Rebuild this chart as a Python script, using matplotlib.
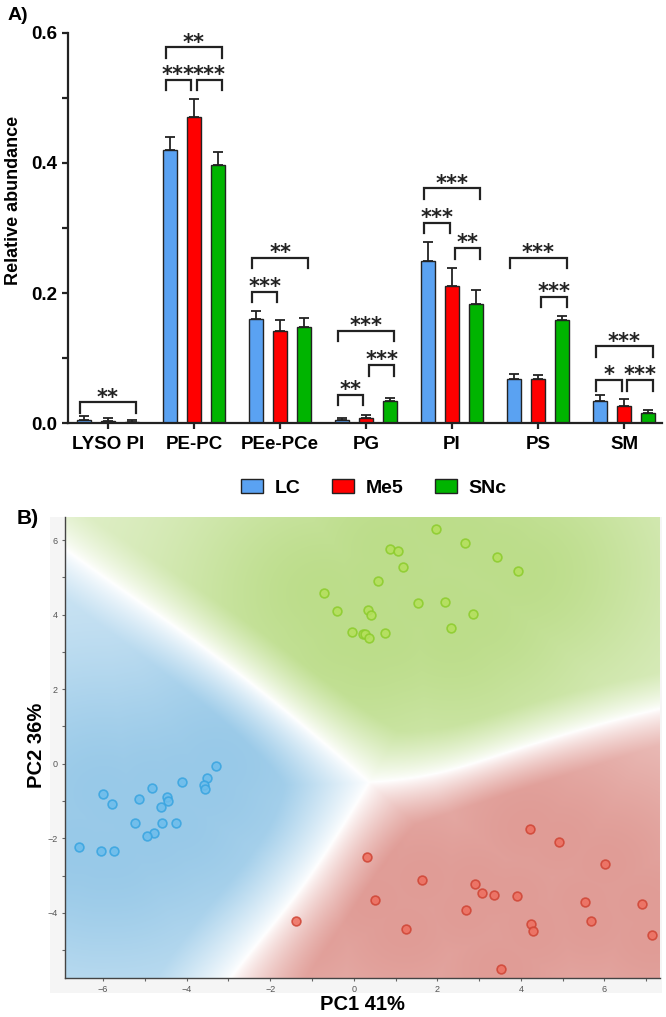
import numpy as np
import matplotlib
matplotlib.use('Agg')
import matplotlib.pyplot as plt
from matplotlib.patches import Patch, Rectangle
from matplotlib.colors import to_rgb

plt.rcParams['font.family'] = ['Liberation Sans', 'DejaVu Sans']

# ---- panel A data ----
categories = ['LYSO PI', 'PE-PC', 'PEe-PCe', 'PG', 'PI', 'PS', 'SM']
groups = ['LC', 'Me5', 'SNc']
lc_mean = [0.005, 0.420, 0.160, 0.005, 0.249, 0.068, 0.034]
lc_err = [0.006, 0.020, 0.012, 0.003, 0.030, 0.008, 0.009]
me5_mean = [0.003, 0.471, 0.142, 0.008, 0.211, 0.068, 0.026]
me5_err = [0.005, 0.027, 0.016, 0.004, 0.027, 0.006, 0.011]
snc_mean = [0.002, 0.397, 0.148, 0.034, 0.183, 0.158, 0.015]
snc_err = [0.002, 0.020, 0.013, 0.004, 0.022, 0.007, 0.005]

# (category, group a, group b, bracket height, label)
comparisons = [
    (0, 0, 2, 0.032, '**'),
    (1, 0, 2, 0.578, '**'),
    (1, 0, 1, 0.528, '***'),
    (1, 1, 2, 0.528, '***'),
    (2, 0, 2, 0.254, '**'),
    (2, 0, 1, 0.202, '***'),
    (3, 0, 2, 0.142, '***'),
    (3, 1, 2, 0.089, '***'),
    (3, 0, 1, 0.043, '**'),
    (4, 0, 2, 0.361, '***'),
    (4, 0, 1, 0.308, '***'),
    (4, 1, 2, 0.269, '**'),
    (5, 0, 2, 0.254, '***'),
    (5, 1, 2, 0.194, '***'),
    (6, 0, 2, 0.118, '***'),
    (6, 0, 1, 0.066, '*'),
    (6, 1, 2, 0.066, '***'),
]

# ---- panel B data (PCA scores) ----
lc_pc1 = [-3.30, -3.50, -3.59, -3.57, -4.10, -4.82, -4.47, -4.44, -4.61, -5.13,
          -5.99, -5.78, -5.23, -4.60, -4.26, -4.78, -4.94, -6.57, -6.05, -5.74]
lc_pc2 = [-0.07, -0.38, -0.56, -0.69, -0.48, -0.66, -0.89, -0.99, -1.16, -0.95,
          -0.80, -1.09, -1.58, -1.60, -1.60, -1.87, -1.95, -2.23, -2.35, -2.34]
me5_pc1 = [4.21, 4.92, 0.31, 6.01, 1.64, 2.90, 3.06, 3.35, 3.90, 0.52,
           5.53, 6.90, 2.69, 5.68, 4.25, 4.30, 1.24, 7.15, 3.53, -1.39]
me5_pc2 = [-1.74, -2.09, -2.49, -2.69, -3.12, -3.24, -3.46, -3.53, -3.55, -3.65,
           -3.70, -3.76, -3.93, -4.21, -4.29, -4.48, -4.43, -4.60, -5.50, -4.23]
snc_pc1 = [1.98, 2.66, 0.86, 1.07, 3.43, 1.19, 3.94, 0.58, -0.70, -0.41,
           0.34, 0.41, 1.54, 2.18, 2.85, -0.05, 0.21, 0.26, 0.37, 0.76, 2.33]
snc_pc2 = [6.30, 5.93, 5.76, 5.70, 5.55, 5.27, 5.17, 4.90, 4.57, 4.10,
           4.13, 3.99, 4.32, 4.35, 4.01, 3.54, 3.48, 3.48, 3.38, 3.52, 3.64]

bar_colors = ['#5aa2f2', '#ff0000', '#00b400']
region_colors = ['#98c9e8', '#e09c96', '#bcdd8a']
point_face = ['#6cbdec', '#ef6e5e', '#b4e05c']
point_edge = ['#38a4e0', '#cf4434', '#8ccc2c']

fig = plt.figure(figsize=(6.66, 10.17), dpi=100)
W, H = 666, 1017


def fig_box(x0, y0, x1, y1):
    return [x0 / W, 1 - y1 / H, (x1 - x0) / W, (y1 - y0) / H]


# ================= panel A =================
ax = fig.add_axes(fig_box(68, 33, 662, 423))
x = np.arange(len(categories))
offsets = [-0.28, 0.0, 0.28]
width = 0.165
means = [lc_mean, me5_mean, snc_mean]
errs = [lc_err, me5_err, snc_err]
for i in range(3):
    ax.bar(x + offsets[i], means[i], width, color=bar_colors[i],
           edgecolor='#222222', linewidth=1.0, label=groups[i], zorder=2)
    ax.errorbar(x + offsets[i], means[i], yerr=[np.zeros(7), errs[i]],
                fmt='none', ecolor='#222222', elinewidth=1.3, capsize=3.5,
                capthick=1.3, zorder=3)

leg_h = 0.016
for cat, a, b, yb, lab in comparisons:
    xa = cat + offsets[a] - 0.05
    xb = cat + offsets[b] + 0.05
    if b - a == 1:
        if a == 0:
            xb = cat + offsets[b] - 0.03
        else:
            xa = cat + offsets[a] + 0.03
    ax.plot([xa, xa, xb, xb], [yb - leg_h, yb, yb, yb - leg_h],
            color='#222222', lw=1.6, clip_on=False, zorder=4,
            solid_joinstyle='miter')
    ax.text((xa + xb) / 2, yb - 0.002, lab, ha='center', va='baseline',
            fontsize=15, fontweight='bold', family='DejaVu Sans',
            color='#222222')

ax.set_xlim(-0.465, 6.44)
ax.set_ylim(0, 0.6)
ax.set_yticks([0.0, 0.2, 0.4, 0.6])
ax.set_yticks([0.1, 0.3, 0.5], minor=True)
ax.set_yticklabels(['0.0', '0.2', '0.4', '0.6'])
ax.set_xticks(x)
ax.set_xticklabels(categories)
for s in ['top', 'right']:
    ax.spines[s].set_visible(False)
for s in ['left', 'bottom']:
    ax.spines[s].set_linewidth(1.6)
    ax.spines[s].set_color('#222222')
ax.tick_params(axis='both', which='major', length=4.5, width=1.6,
               labelsize=13.5, color='#222222')
ax.tick_params(axis='y', which='minor', length=4.5, width=1.6, color='#222222')
ax.tick_params(axis='y', pad=3)
ax.tick_params(axis='x', pad=5)
for t in ax.get_xticklabels() + ax.get_yticklabels():
    t.set_fontweight('bold')
ax.set_ylabel('Relative abundance', fontsize=13, fontweight='bold')
ax.yaxis.set_label_coords(-0.077, 0.57)

handles = [Patch(facecolor=bar_colors[i], edgecolor='#222222', linewidth=1.0,
                 label=groups[i]) for i in range(3)]
fig.legend(handles=handles, loc='center', bbox_to_anchor=(374 / W, 1 - 488 / H),
           ncol=3, frameon=False, handlelength=1.1, handleheight=0.75,
           columnspacing=1.65, handletextpad=0.6,
           prop={'weight': 'bold', 'size': 14})

fig.text(8 / W, 1 - 16 / H, 'A)', fontsize=14, fontweight='bold', va='center')

# ================= panel B =================
fig.patches.append(Rectangle((50 / W, 1 - 993 / H), 612 / W, 476 / H,
                             transform=fig.transFigure, facecolor='#f5f5f5',
                             edgecolor='none', zorder=-1))
bx = fig.add_axes(fig_box(65, 517, 660, 978))
bx.set_zorder(2)
xlim = (-6.91, 7.33)
ylim = (-5.75, 6.62)

pcs = [(np.array(lc_pc1), np.array(lc_pc2)),
       (np.array(me5_pc1), np.array(me5_pc2)),
       (np.array(snc_pc1), np.array(snc_pc2))]

# class-density background (soft nearest-class colouring)
gx, gy = np.meshgrid(np.linspace(xlim[0], xlim[1], 400),
                     np.linspace(ylim[0], ylim[1], 400))
h1 = 1.35
class_bias = [0.0, -2.0, 0.0]
logd = []
dmin = []
for (px, py), bias in zip(pcs, class_bias):
    d2 = (gx[..., None] - px) ** 2 + (gy[..., None] - py) ** 2
    e = -d2 / (2 * h1 ** 2)
    m = e.max(-1)
    logd.append(m + np.log(np.exp(e - m[..., None]).sum(-1)) + bias)
    dmin.append(np.sqrt(d2.min(-1)))
logd = np.array(logd)
dmin = np.array(dmin)
T = 3.0
prob = np.exp((logd - logd.max(0)) / T)
prob = prob / prob.sum(0)
win = prob.argmax(0)
ps = np.sort(prob, axis=0)
margin = np.clip(ps[-1] - ps[-2], 0, 1)
dm = np.take_along_axis(dmin, win[None], 0)[0]
strength = 0.45 + 0.55 * np.exp(-dm ** 2 / (2 * 2.8 ** 2))
alpha = np.clip(margin / 0.55, 0, 1) ** 0.8 * strength
cols = np.array([to_rgb(c) for c in region_colors])
img = 1 - alpha[..., None] * (1 - cols[win])
bx.imshow(img, extent=[xlim[0], xlim[1], ylim[0], ylim[1]], origin='lower',
          aspect='auto', interpolation='bilinear', zorder=0)

for i, (px, py) in enumerate(pcs):
    bx.scatter(px, py, s=40, facecolor=point_face[i], edgecolor=point_edge[i],
               linewidth=1.2, alpha=0.85, zorder=3)

bx.set_xlim(*xlim)
bx.set_ylim(*ylim)
bx.set_xticks([-6, -4, -2, 0, 2, 4, 6])
bx.set_yticks([-4, -2, 0, 2, 4, 6])
bx.set_yticks([-5, -3, -1, 1, 3, 5], minor=True)
bx.set_xticks([-5, -3, -1, 1, 3, 5, 7], minor=True)
for s in ['top', 'right']:
    bx.spines[s].set_visible(False)
for s in ['left', 'bottom']:
    bx.spines[s].set_linewidth(1.0)
    bx.spines[s].set_color('#444444')
bx.tick_params(axis='both', which='both', length=2, width=0.8, color='#666666',
               labelsize=6.5, labelcolor='#555555', pad=3)

fig.text(362 / W, 1 - 1005 / H, 'PC1 41%', fontsize=14.5, fontweight='bold',
         ha='center', va='center')
fig.text(36 / W, 1 - 745 / H, 'PC2 36%', fontsize=14.5, fontweight='bold',
         ha='center', va='center', rotation=90)
fig.text(17 / W, 1 - 518 / H, 'B)', fontsize=15, fontweight='bold', va='center')

fig.savefig('out.png', dpi=100)
